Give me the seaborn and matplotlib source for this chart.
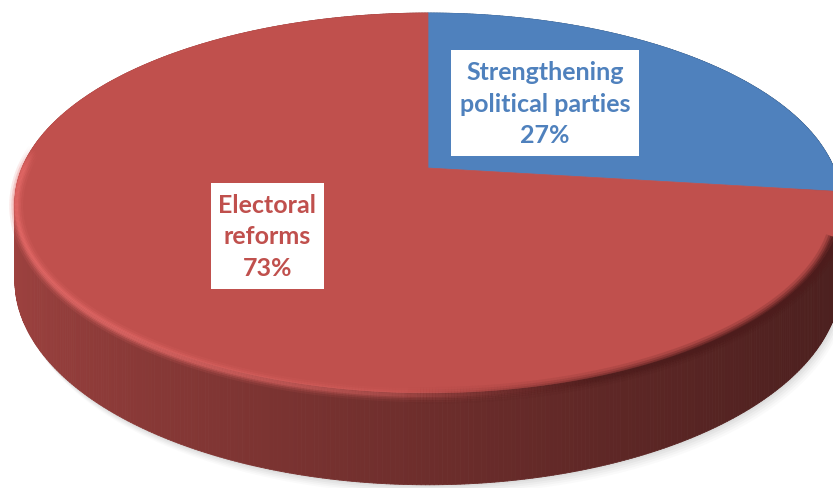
import numpy as np
import matplotlib
matplotlib.use("Agg")
import matplotlib.pyplot as plt
import seaborn as sns
from matplotlib.patches import Rectangle, Polygon
from matplotlib.collections import PolyCollection, LineCollection
from matplotlib.colors import to_rgb

# Survey shares (percent)
categories = ["Strengthening political parties", "Electoral reforms"]
shares = [27, 73]
label_texts = ["Strengthening\npolitical parties\n27%", "Electoral\nreforms\n73%"]
slice_colors = ["#4F81BD", "#C0504D"]

sns.set_theme(style="white")
plt.rcParams['font.family'] = ['Lato', 'DejaVu Sans']

fig = plt.figure(figsize=(8.33, 4.88), dpi=100)
ax = fig.add_axes([0, 0, 1, 1])
ax.set_xlim(0, 833)
ax.set_ylim(488, 0)
ax.axis("off")

# perspective view of a flat disc (pixel units)
CX, CY = 428, 168
A, B, H, K = 406, 183.5, 75, 0.184


def proj(x, y, depth=0.0):
    w = 1 + K * y
    return CX + A * x / w, CY + (-B * y + H * depth) / w


def ring(thetas, depth=0.0, r=1.0):
    xs, ys = proj(r * np.cos(thetas), r * np.sin(thetas), depth)
    return np.column_stack([xs, ys])


# slice angle ranges: start at 12 o'clock, go clockwise
total = float(sum(shares))
bounds = np.concatenate([[0], np.cumsum(shares)]) / total
angle_ranges = [(np.pi / 2 - 2 * np.pi * bounds[i], np.pi / 2 - 2 * np.pi * bounds[i + 1])
                for i in range(len(shares))]

# soft drop shadow under the disc
full = np.linspace(0, 2 * np.pi, 400)
base_outline = ring(full, 1.0)
for off, alpha in [(10, 0.035), (8, 0.045), (6, 0.06), (4, 0.07), (2, 0.08)]:
    ax.add_patch(Polygon(base_outline + np.array([off * 0.6, off]), closed=True,
                         facecolor="#808080", edgecolor="none", alpha=alpha, zorder=1))

# side wall, shaded by angle, painted back to front
quads, quad_cols, keys = [], [], []
for (t0, t1), col in zip(angle_ranges, slice_colors):
    rgb = np.array(to_rgb(col))
    n = max(int(abs(t1 - t0) / (2 * np.pi) * 720), 4)
    ts = np.linspace(t0, t1, n + 1)
    top = ring(ts, 0.0)
    bot = ring(ts, 1.0)
    for j in range(n):
        tm = 0.5 * (ts[j] + ts[j + 1])
        shade = 0.62 - 0.22 * np.cos(tm) + 0.05 * np.sin(tm)
        shade = np.clip(shade, 0.36, 0.9)
        quads.append([top[j], top[j + 1], bot[j + 1], bot[j]])
        c = tuple(rgb * shade)
        quad_cols.append(c)
        keys.append(np.sin(tm))
order = np.argsort(keys)[::-1]
ax.add_collection(PolyCollection([quads[i] for i in order],
                                 facecolors=[quad_cols[i] for i in order],
                                 edgecolors=[quad_cols[i] for i in order],
                                 linewidths=0.6, zorder=2))

# top faces
for (t0, t1), col in zip(angle_ranges, slice_colors):
    ts = np.linspace(t0, t1, 300)
    pts = np.vstack([[proj(0, 0)], ring(ts, 0.0)])
    ax.add_patch(Polygon(pts, closed=True, facecolor=col, edgecolor=col,
                         linewidth=0.5, zorder=3))

# rounded bevel along the front rim: lit on the left, in shade on the right
ts = np.linspace(np.pi * 0.96, 2 * np.pi - 0.126, 500)
edge = ring(ts, 0.035, 0.997)
segs, hi_a, lo_a = [], [], []
for j in range(len(ts) - 1):
    c = np.cos(ts[j])
    segs.append([edge[j], edge[j + 1]])
    hi_a.append(np.clip(0.35 - c, 0, 1) * 0.9 * np.clip((ts[j] - np.pi * 0.96) / 0.12, 0, 1))
    lo_a.append(np.clip((c + 0.05) * 1.6, 0, 1))
for lw, am in [(10, 0.12), (7, 0.2), (4.5, 0.3), (2.5, 0.4)]:
    ax.add_collection(LineCollection(
        segs, colors=[(0.90, 0.42, 0.41, a * am * 1.4) for a in hi_a],
        linewidths=lw, zorder=4, capstyle="butt"))
    ax.add_collection(LineCollection(
        segs, colors=[(0.30, 0.11, 0.11, a * am * 1.5) for a in lo_a],
        linewidths=lw * 1.2, zorder=4, capstyle="butt"))

# data labels in white boxes
label_boxes = [(451, 50, 188, 106), (211, 183, 113, 106)]
for (x0, y0, w, h), txt, col in zip(label_boxes, label_texts, slice_colors):
    ax.add_patch(Rectangle((x0, y0), w, h, facecolor="white", edgecolor="none", zorder=5))
    ax.text(x0 + w / 2, y0 + h / 2 + 1, txt, color=col, fontsize=18, fontweight="bold",
            ha="center", va="center", linespacing=1.45, zorder=6)

fig.savefig("out.png", dpi=100)
